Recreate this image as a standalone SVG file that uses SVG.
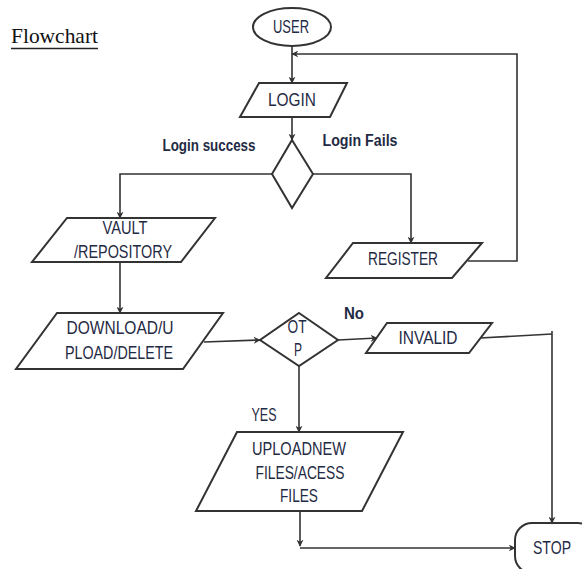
<svg xmlns="http://www.w3.org/2000/svg" width="582" height="569" viewBox="0 0 582 569">
  <defs>
    <marker id="arrow" viewBox="0 0 10 10" refX="9" refY="5" markerWidth="7" markerHeight="7" markerUnits="userSpaceOnUse" orient="auto">
      <path d="M0,0 L10,5 L0,10 L3,5 z" fill="#333"/>
    </marker>
  </defs>
  <style>
    .shape { fill: #fff; stroke: #333; stroke-width: 2; }
    .edge { fill: none; stroke: #333; stroke-width: 1.6; }
    .lbl { font-family: "Liberation Sans", Arial, sans-serif; font-size: 18px; fill: #1f2a44; text-anchor: middle; }
    .cap { font-family: "Liberation Sans", Arial, sans-serif; font-size: 16px; font-weight: bold; fill: #1f2a44; text-anchor: middle; }
    .title { font-family: "Liberation Serif", "Times New Roman", serif; font-size: 21.5px; fill: #111; }
  </style>
  <rect width="582" height="569" fill="#fff"/>

  <!-- heading -->
  <g id="title">
    <text class="title" x="11" y="43" textLength="87" lengthAdjust="spacingAndGlyphs">Flowchart</text>
    <line x1="11" y1="48.5" x2="98" y2="48.5" stroke="#222" stroke-width="1.5"/>
  </g>

  <!-- connectors -->
  <g id="connectors">
    <path class="edge" d="M292,46 V83" marker-end="url(#arrow)"/>
    <path class="edge" d="M292,117 V140" marker-end="url(#arrow)"/>
    <path class="edge" d="M272,174 H120 V218" marker-end="url(#arrow)"/>
    <path class="edge" d="M313,174 H411 V243" marker-end="url(#arrow)"/>
    <path class="edge" d="M468,261 H517 V54 H292" marker-end="url(#arrow)"/>
    <path class="edge" d="M120,262 V313" marker-end="url(#arrow)"/>
    <path class="edge" d="M204,342 L260,340" marker-end="url(#arrow)"/>
    <path class="edge" d="M338,340 L377,338" marker-end="url(#arrow)"/>
    <path class="edge" d="M480,338 L552,334"/>
    <path class="edge" d="M552,331 V523" marker-end="url(#arrow)"/>
    <path class="edge" d="M299,366 V432" marker-end="url(#arrow)"/>
    <path class="edge" d="M300,511 V546" marker-end="url(#arrow)"/>
    <path class="edge" d="M300,548 H515" marker-end="url(#arrow)"/>
  </g>

  <!-- branch labels -->
  <g id="labels">
    <text class="cap" x="209" y="151" textLength="93" lengthAdjust="spacingAndGlyphs">Login success</text>
    <text class="cap" x="360" y="146" textLength="75" lengthAdjust="spacingAndGlyphs">Login Fails</text>
    <text class="cap" x="354" y="319" font-size="17" textLength="20" lengthAdjust="spacingAndGlyphs">No</text>
    <text class="lbl" x="264" y="421" font-size="17" textLength="25" lengthAdjust="spacingAndGlyphs">YES</text>
  </g>

  <g id="user">
    <ellipse class="shape" cx="292" cy="27" rx="39" ry="19"/>
    <text class="lbl" x="291" y="33" textLength="36" lengthAdjust="spacingAndGlyphs">USER</text>
  </g>

  <g id="login">
    <polygon class="shape" points="259,83 347,83 330,117 240,117"/>
    <text class="lbl" x="292" y="106" textLength="48" lengthAdjust="spacingAndGlyphs">LOGIN</text>
  </g>

  <g id="login-check">
    <polygon class="shape" points="292,140 313,174 292,208 272,174"/>
  </g>

  <g id="vault">
    <polygon class="shape" points="67,218 215,218 181,262 32,262"/>
    <text class="lbl" x="125" y="234" textLength="45" lengthAdjust="spacingAndGlyphs">VAULT</text>
    <text class="lbl" x="123" y="258" textLength="98" lengthAdjust="spacingAndGlyphs">/REPOSITORY</text>
  </g>

  <g id="register">
    <polygon class="shape" points="353,243 482,243 452,278 326,278"/>
    <text class="lbl" x="403" y="265" textLength="70" lengthAdjust="spacingAndGlyphs">REGISTER</text>
  </g>

  <g id="download">
    <polygon class="shape" points="57,313 223,313 183,369 16,369"/>
    <text class="lbl" x="120" y="334" textLength="107" lengthAdjust="spacingAndGlyphs">DOWNLOAD/U</text>
    <text class="lbl" x="119" y="359" textLength="108" lengthAdjust="spacingAndGlyphs">PLOAD/DELETE</text>
  </g>

  <g id="otp">
    <polygon class="shape" points="299,313 338,340 299,366 260,340"/>
    <text class="lbl" x="297" y="333" textLength="19" lengthAdjust="spacingAndGlyphs">OT</text>
    <text class="lbl" x="298" y="356" textLength="8" lengthAdjust="spacingAndGlyphs">P</text>
  </g>

  <g id="invalid">
    <polygon class="shape" points="387,323 492,323 469,353 366,353"/>
    <text class="lbl" x="428" y="344" textLength="59" lengthAdjust="spacingAndGlyphs">INVALID</text>
  </g>

  <g id="upload">
    <polygon class="shape" points="237,432 403,432 362,511 196,511"/>
    <text class="lbl" x="299" y="455" textLength="94" lengthAdjust="spacingAndGlyphs">UPLOADNEW</text>
    <text class="lbl" x="300" y="479" textLength="89" lengthAdjust="spacingAndGlyphs">FILES/ACESS</text>
    <text class="lbl" x="299" y="502" textLength="38" lengthAdjust="spacingAndGlyphs">FILES</text>
  </g>

  <g id="stop">
    <rect class="shape" x="515" y="523" width="80" height="50" rx="17"/>
    <text class="lbl" x="552" y="554" textLength="38" lengthAdjust="spacingAndGlyphs">STOP</text>
  </g>
</svg>
